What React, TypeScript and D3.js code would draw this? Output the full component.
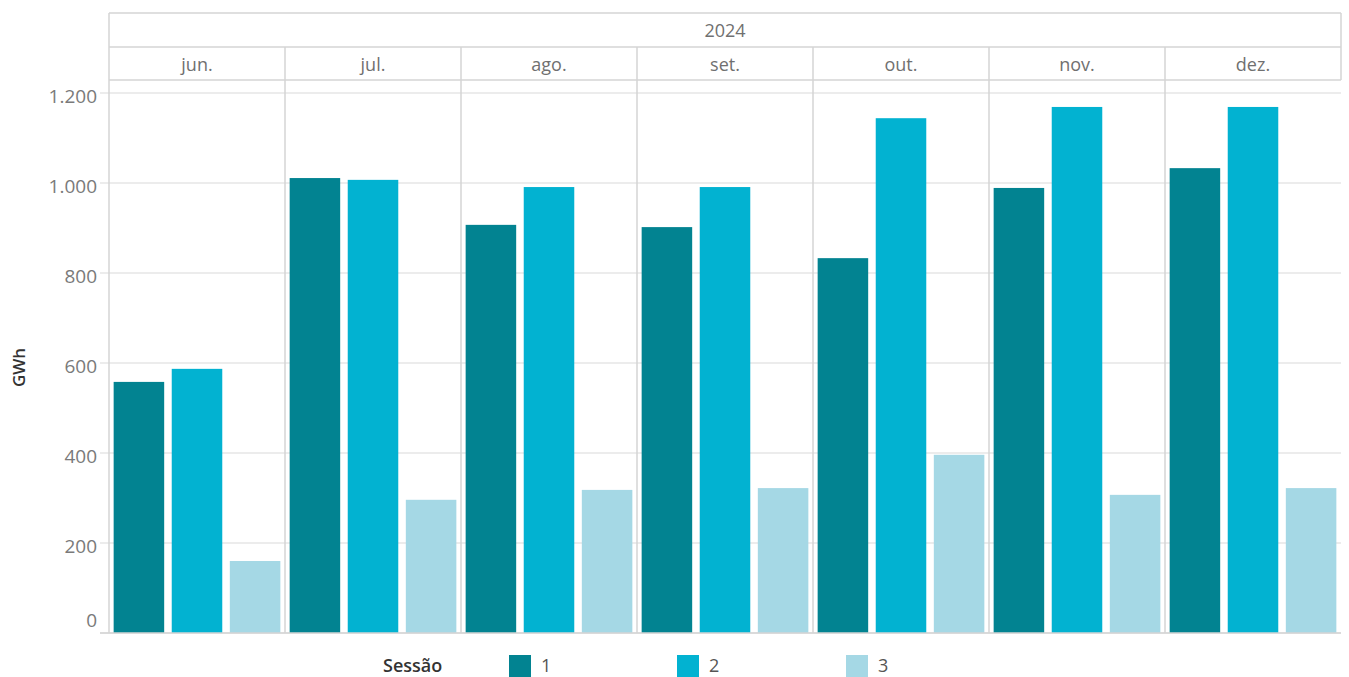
import React from "react";
import * as d3 from "d3";

const months = ["jun.", "jul.", "ago.", "set.", "out.", "nov.", "dez."];
const sessions = ["1", "2", "3"];
const session1 = [558, 1011, 907, 902, 833, 989, 1033];
const session2 = [587, 1007, 991, 991, 1144, 1169, 1169];
const session3 = [160, 296, 318, 322, 396, 307, 322];
const yTicks = [0, 200, 400, 600, 800, 1000, 1200];
const colors = ["#028391", "#02b2d1", "#a5d8e5"];
const year = "2024";

const W = 1349, H = 677;
const left = 109, right = 1341;
const headerTop = 13, headerMid = 47, headerBottom = 80;
const zeroY = 633;

export default function App() {
  const series = [session1, session2, session3];
  const x = d3.scaleBand<string>().domain(months).range([left, right]).padding(0);
  const xi = d3.scaleBand<string>().domain(sessions).range([0, x.bandwidth()]).paddingInner(0.13).paddingOuter(0.08);
  const y = d3.scaleLinear().domain([0, 1228.9]).range([zeroY, headerBottom]);
  const fmt = (v: number) => d3.format(",")(v).replace(/,/g, ".");
  const font = "'Open Sans', 'Noto Sans', sans-serif";
  const grid = "#e6e6e6";
  const border = "#d4d4d4";

  return (
    <svg width={W} height={H} style={{ position: "absolute", left: 0, top: 0, background: "#fff" }} fontFamily={font}>
      {/* gridlines */}
      {yTicks.map((t) => (
        <g key={t}>
          <line x1={100} x2={right} y1={y(t)} y2={y(t)} stroke={grid} strokeWidth={1.5} />
          <text x={97} y={t === 0 ? y(t) - 13 : y(t) + 3} dy="0.36em" textAnchor="end" fontSize={19} fill="#7a7a7a">{fmt(t)}</text>
        </g>
      ))}
      {/* bars */}
      {months.map((m, i) => (
        <g key={m} transform={`translate(${x(m)},0)`}>
          {sessions.map((s, j) => (
            <rect key={s} x={xi(s)} y={y(series[j][i])} width={xi.bandwidth()} height={y(0) - y(series[j][i])} fill={colors[j]} />
          ))}
        </g>
      ))}
      {/* panel dividers */}
      {months.slice(1).map((m) => (
        <line key={m} x1={x(m)} x2={x(m)} y1={headerMid} y2={zeroY} stroke={border} strokeWidth={1.5} />
      ))}
      {/* frame */}
      <line x1={left} x2={left} y1={headerTop} y2={zeroY} stroke={border} strokeWidth={1.5} />
      <line x1={right} x2={right} y1={headerTop} y2={headerBottom} stroke={border} strokeWidth={1.5} />
      <line x1={left} x2={right} y1={headerTop} y2={headerTop} stroke={border} strokeWidth={1.5} />
      <line x1={left} x2={right} y1={headerMid} y2={headerMid} stroke={border} strokeWidth={1.5} />
      <line x1={left} x2={right} y1={headerBottom} y2={headerBottom} stroke={border} strokeWidth={1.5} />
      <line x1={100} x2={right} y1={zeroY} y2={zeroY} stroke={border} strokeWidth={1.5} />
      {/* header text */}
      <text x={(left + right) / 2} y={(headerTop + headerMid) / 2 + 1} dy="0.36em" textAnchor="middle" fontSize={18} fill="#707070">{year}</text>
      {months.map((m) => (
        <text key={m} x={(x(m) as number) + x.bandwidth() / 2} y={(headerMid + headerBottom) / 2 + 1} dy="0.36em" textAnchor="middle" fontSize={18} fill="#707070">{m}</text>
      ))}
      {/* y label */}
      <text transform={`translate(25,${(headerBottom + zeroY) / 2 + 11}) rotate(-90)`} textAnchor="middle" fontSize={17} fontWeight={600} fill="#333">GWh</text>
      {/* legend */}
      <text x={383} y={666} dy="0.36em" fontSize={18} fontWeight={600} fill="#333">Sessão</text>
      {sessions.map((s, j) => {
        const lx = [509, 677, 846][j];
        return (
          <g key={s}>
            <rect x={lx} y={655} width={22} height={22} fill={colors[j]} />
            <text x={lx + 32} y={666} dy="0.36em" fontSize={18} fill="#555">{s}</text>
          </g>
        );
      })}
    </svg>
  );
}
